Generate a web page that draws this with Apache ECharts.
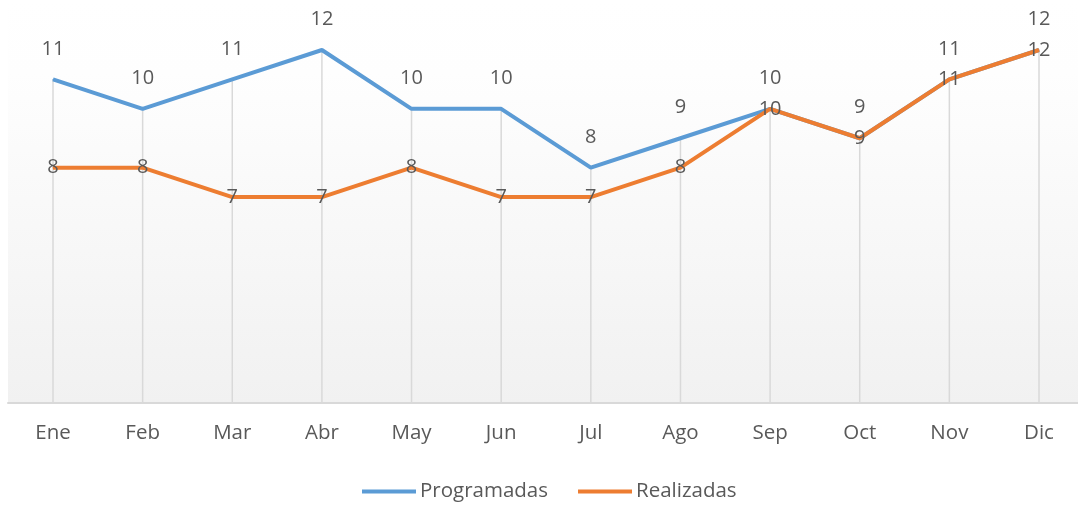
<!DOCTYPE html>
<html>
<head>
<meta charset="utf-8">
<script src="https://cdn.jsdelivr.net/npm/echarts@6/dist/echarts.min.js"></script>
<style>
  html, body { margin: 0; padding: 0; background: #fff; }
  #chart { width: 1078px; height: 505px; }
</style>
</head>
<body>
<div id="chart"></div>
<script>
// datos
const meses = ["Ene", "Feb", "Mar", "Abr", "May", "Jun", "Jul", "Ago", "Sep", "Oct", "Nov", "Dic"];
const programadas = [11, 10, 11, 12, 10, 10, 8, 9, 10, 9, 11, 12];
const realizadas = [8, 8, 7, 7, 8, 7, 7, 8, 10, 9, 11, 12];

// lineas de caida: desde el punto mas alto hasta el eje
const caida = programadas.map((v, i) => Math.max(v, realizadas[i]));

const fontFamily = "Open Sans";
const textColor = "#595959";

const chart = echarts.init(document.getElementById("chart"));
const option = {
  animation: false,
  grid: [
    // fondo del area de trazado y linea del eje
    {
      show: true,
      left: 8,
      right: 0,
      top: 0,
      bottom: 102,
      borderWidth: 0,
      backgroundColor: new echarts.graphic.LinearGradient(0, 0, 0, 1, [
        { offset: 0, color: "#ffffff" },
        { offset: 0.18, color: "#fefefe" },
        { offset: 1, color: "#f1f1f1" },
      ]),
    },
    // series
    {
      left: 53,
      right: 39,
      top: 0,
      bottom: 102,
    },
  ],
  legend: {
    data: ["Programadas", "Realizadas"],
    top: 476,
    left: 357,
    icon: "rect",
    itemWidth: 54,
    itemHeight: 4,
    itemGap: 30,
    textStyle: { color: textColor, fontSize: 20.5, fontFamily: fontFamily, padding: [0, 0, 0, -1] },
  },
  xAxis: [
    {
      gridIndex: 0,
      type: "category",
      data: meses,
      axisLine: { show: true, lineStyle: { color: "#d9d9d9", width: 2 } },
      axisTick: { show: false },
      axisLabel: { show: false },
      splitLine: { show: false },
    },
    {
      gridIndex: 1,
      type: "category",
      data: meses,
      boundaryGap: false,
      axisLine: { show: false },
      axisTick: { show: false },
      splitLine: { show: false },
      axisLabel: { color: textColor, fontSize: 20.5, fontFamily: fontFamily, margin: 20 },
    },
  ],
  yAxis: [
    { gridIndex: 0, type: "value", min: 0, max: 13.7, show: false, splitLine: { show: false } },
    { gridIndex: 1, type: "value", min: 0, max: 13.7, show: false, splitLine: { show: false } },
  ],
  series: [
    {
      name: "caida",
      type: "bar",
      xAxisIndex: 1,
      yAxisIndex: 1,
      data: caida,
      barWidth: 1.5,
      itemStyle: { color: "#d9d9d9" },
      z: 1,
      silent: true,
    },
    {
      name: "Programadas",
      type: "line",
      xAxisIndex: 1,
      yAxisIndex: 1,
      data: programadas,
      symbol: "circle",
      symbolSize: 1,
      showSymbol: true,
      lineStyle: { color: "#5b9bd5", width: 4 },
      itemStyle: { color: "#5b9bd5" },
      label: {
        show: true,
        position: "top",
        distance: 20,
        color: textColor,
        fontSize: 20,
        fontFamily: fontFamily,
      },
      z: 3,
    },
    {
      name: "Realizadas",
      type: "line",
      xAxisIndex: 1,
      yAxisIndex: 1,
      data: realizadas,
      symbol: "circle",
      symbolSize: 1,
      showSymbol: true,
      lineStyle: { color: "#ed7d31", width: 4 },
      itemStyle: { color: "#ed7d31" },
      label: {
        show: true,
        position: "inside",
        color: textColor,
        fontSize: 20,
        fontFamily: fontFamily,
      },
      z: 4,
    },
  ],
};
chart.setOption(option);
</script>
</body>
</html>
